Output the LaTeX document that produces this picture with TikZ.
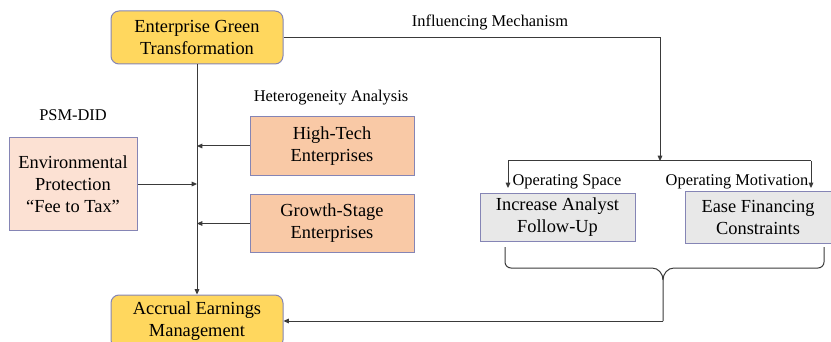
\documentclass[tikz,border=0pt]{standalone}
\usepackage{fontspec}
\setmainfont{LiberationSerif}[Extension=.ttf, UprightFont=*-Regular, BoldFont=*-Bold]
\usepackage{tikz}
\usetikzlibrary{positioning, arrows.meta}
\definecolor{goldbox}{HTML}{FFD75E}
\definecolor{pinkbox}{HTML}{FCE1D3}
\definecolor{peachbox}{HTML}{F9C9A6}
\definecolor{greybox}{HTML}{E8E8E8}
\definecolor{edgeblue}{HTML}{8585B5}
\definecolor{wiregrey}{HTML}{3A3A3A}
\tikzset{
  block/.style={rectangle, draw=edgeblue, line width=0.75pt, align=center, inner sep=0pt, font=\fontsize{13.8}{16.5}\selectfont},
  roundblock/.style={block, rounded corners=6pt, fill=goldbox, minimum width=129pt, minimum height=39.75pt},
  label/.style={inner sep=0pt, font=\fontsize{12.3}{14}\selectfont},
  arrow/.style={-{Triangle[length=4pt, width=3.5pt]}, line width=0.75pt, draw=wiregrey},
  wire/.style={line width=0.75pt, draw=wiregrey},
}

\begin{document}
\begin{tikzpicture}[x=0.75pt, y=-0.75pt]
  \useasboundingbox (0,0) rectangle (831,342);

  % Main boxes
  \node[roundblock] (egt) at (197,37.5) {Enterprise Green\\Transformation};
  \node[roundblock] (aem) at (197,321.5) {Accrual Earnings\\Management};

  % Policy shock
  \node[label] (psm) at (73,115) {PSM-DID};
  \node[block, fill=pinkbox, minimum width=96pt, minimum height=69pt] (env) at (73,184)
    {Environmental\\Protection\\``Fee to Tax''};

  % Heterogeneity
  \node[label] (hetero) at (331,98) {Heterogeneity Analysis};
  \node[block, fill=peachbox, minimum width=123pt, minimum height=43.5pt] (htech) at (332,146)
    {High-Tech\\Enterprises};
  \node[block, fill=peachbox, minimum width=123pt, minimum height=43pt] (growth) at (332,223.5)
    {Growth-Stage\\Enterprises};

  % Mechanism
  \node[label] (infl) at (490,22) {Influencing Mechanism};
  \node[label] (opspace) at (567,182) {Operating Space};
  \node[label] (opmot) at (737,182) {Operating Motivation};
  \node[block, fill=greybox, minimum width=116.25pt, minimum height=36pt] (analyst) at (557.5,217)
    {Increase Analyst\\Follow-Up};
  \node[block, fill=greybox, minimum width=109.5pt, minimum height=39pt] (finance) at (758,217)
    {Ease Financing\\Constraints};

  % Trunk and side inputs
  \draw[arrow] (egt.south) -- (aem.north);
  \draw[arrow] (env.east) -- (env.east -| egt.south);
  \draw[arrow] (htech.west) -- (htech.west -| egt.south);
  \draw[arrow] (growth.west) -- (growth.west -| egt.south);

  % Mechanism split
  \coordinate (split) at (660,161);
  \coordinate (barl) at (508,161);
  \coordinate (barr) at (811,161);
  \draw[wire] (egt.east) -- (egt.east -| split);
  \draw[arrow] (egt.east -| split) -- (split);
  \draw[wire] (barl) -- (barr);
  \draw[arrow] (barl) -- (508,188);
  \draw[arrow] (barr) -- (811,188);

  % Brace back to outcome
  \coordinate (tip) at (663,280);
  \coordinate (back) at (663,321);
  \draw[wire] (505,247) -- (505,262) to[out=-90, in=180] (511,268) -- (652,268)
    to[out=0, in=90] (tip) -- (back);
  \draw[wire] (824,247) -- (824,262) to[out=-90, in=0] (818,268) -- (674,268)
    to[out=180, in=90] (tip);
  \draw[arrow] (back) -- (back -| aem.east);

\end{tikzpicture}
\end{document}
